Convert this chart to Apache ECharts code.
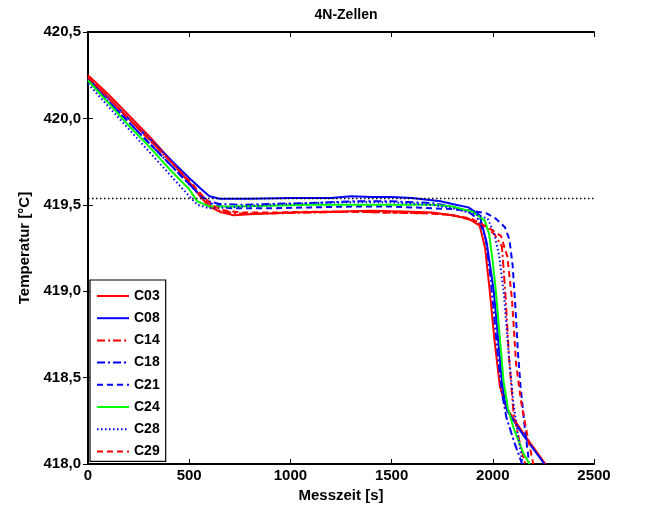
<!DOCTYPE html>
<html>
<head>
<meta charset="utf-8">
<script src="https://cdn.jsdelivr.net/npm/echarts@6/dist/echarts.min.js"></script>
<style>html,body{margin:0;padding:0;background:#fff;}#c{width:656px;height:508px;}</style>
</head>
<body>
<div id="c"></div>
<script>
const titleText = '4N-Zellen';
const xName = 'Messzeit [s]';
const yName = 'Temperatur [°C]';
const xTicks = [0, 500, 1000, 1500, 2000, 2500];
const yTicks = [418.0, 418.5, 419.0, 419.5, 420.0, 420.5];
const refLevel = 419.535;
const names = ['C03', 'C08', 'C14', 'C18', 'C21', 'C24', 'C28', 'C29'];

const c03_t = [0,100,200,300,400,500,560,600,650,720,800,1000,1200,1400,1600,1700,1800,1880,1935,1962,1985,2008,2035,2065,2155,2260];
const c03_T = [420.25,420.14,420.02,419.9,419.77,419.63,419.54,419.49,419.46,419.44,419.445,419.455,419.46,419.465,419.46,419.455,419.44,419.42,419.38,419.25,419.0,418.72,418.45,418.33,418.17,418.0];
const c08_t = [0,100,200,300,400,500,560,600,650,700,800,1000,1200,1300,1400,1500,1600,1742,1800,1880,1935,1970,2005,2025,2045,2060,2070,2155,2255];
const c08_T = [420.23,420.12,420.0,419.885,419.77,419.655,419.59,419.55,419.535,419.535,419.535,419.54,419.54,419.55,419.545,419.545,419.54,419.52,419.505,419.485,419.44,419.28,419.0,418.74,418.48,418.36,418.31,418.16,418.0];
const c14_t = [0,100,200,300,400,500,560,610,660,750,900,1100,1300,1500,1700,1800,1900,1965,2008,2045,2062,2080,2102,2130,2160];
const c14_T = [420.24,420.12,420.0,419.88,419.76,419.63,419.55,419.49,419.46,419.45,419.45,419.455,419.46,419.455,419.45,419.44,419.41,419.37,419.33,419.26,418.99,418.62,418.3,418.14,418.0];
const c18_t = [0,100,200,300,400,500,550,600,650,750,900,1100,1300,1500,1700,1800,1880,1935,1965,1987,2007,2027,2047,2067,2105,2145];
const c18_T = [420.22,420.1,419.98,419.86,419.74,419.62,419.56,419.52,419.505,419.5,419.505,419.51,419.52,419.52,419.51,419.49,419.46,419.41,419.3,419.1,418.85,418.6,418.4,418.27,418.13,418.0];
const c21_t = [0,100,200,300,400,500,550,600,700,900,1100,1300,1500,1700,1800,1900,1970,2015,2060,2082,2098,2112,2124,2137,2157,2180];
const c21_T = [420.22,420.1,419.98,419.86,419.74,419.62,419.56,419.51,419.48,419.48,419.485,419.49,419.49,419.48,419.475,419.465,419.45,419.42,419.37,419.3,419.15,418.9,418.65,418.45,418.22,418.0];
const c24_t = [0,100,200,300,400,500,540,600,700,900,1100,1300,1500,1700,1800,1900,1960,1982,2000,2015,2037,2053,2075,2105,2152,2182];
const c24_T = [420.22,420.09,419.96,419.84,419.71,419.59,419.52,419.49,419.49,419.495,419.5,419.5,419.5,419.5,419.49,419.46,419.41,419.33,419.17,419.0,418.7,418.48,418.32,418.2,418.06,418.0];
const c28_t = [0,100,200,300,400,500,540,600,700,900,1100,1300,1500,1700,1800,1900,1975,2008,2032,2056,2080,2100,2122,2148];
const c28_T = [420.2,420.07,419.94,419.81,419.68,419.55,419.5,419.48,419.485,419.5,419.51,419.515,419.515,419.5,419.48,419.45,419.42,419.33,419.2,418.97,418.62,418.37,418.18,418.0];
const c29_t = [0,100,200,300,400,500,560,610,660,750,900,1100,1300,1500,1700,1800,1894,1975,2040,2072,2095,2115,2140,2165,2200];
const c29_T = [420.24,420.12,420.0,419.88,419.76,419.64,419.56,419.5,419.47,419.455,419.455,419.46,419.46,419.455,419.45,419.44,419.42,419.37,419.32,419.2,418.95,418.58,418.36,418.2,418.0];

const seriesT = [c03_t, c08_t, c14_t, c18_t, c21_t, c24_t, c28_t, c29_t];
const seriesV = [c03_T, c08_T, c14_T, c18_T, c21_T, c24_T, c28_T, c29_T];
const colors = ['#ff0000', '#0000ff', '#ff0000', '#0000ff', '#0000ff', '#00ff00', '#0000ff', '#ff0000'];
const dashes = ['solid', 'solid', [8, 3, 2, 3], [8, 3, 2, 3], [6, 4], 'solid', [1.5, 2.5], [6, 4]];

const FONT = "'Liberation Sans', Arial, sans-serif";
const fmtY = v => v.toFixed(1).replace('.', ',');
const fmtX = v => String(v);

const series = names.map((n, i) => ({
  name: n,
  type: 'line',
  xAxisIndex: 0,
  yAxisIndex: 0,
  symbol: 'none',
  silent: true,
  animation: false,
  data: seriesT[i].map((t, k) => [t, seriesV[i][k]]),
  lineStyle: { color: colors[i], width: 2, type: dashes[i] },
  itemStyle: { color: colors[i] },
  markLine: i === 0 ? {
    silent: true, symbol: 'none', label: { show: false },
    lineStyle: { color: '#000', type: [1.5, 2.5], width: 1.3 },
    data: [{ yAxis: refLevel }]
  } : undefined
}));

const chart = echarts.init(document.getElementById('c'), null, { renderer: 'canvas' });
const axisCommon = {
  axisLine: { show: true, lineStyle: { color: '#000', width: 2 } },
  axisTick: { show: true, inside: true, length: 5, lineStyle: { color: '#000', width: 1 } },
  splitLine: { show: false }
};
chart.setOption({
  animation: false,
  backgroundColor: '#fff',
  title: { text: titleText, left: 341, top: 3, textAlign: 'center',
    textStyle: { fontFamily: FONT, fontSize: 14, fontWeight: 'bold', color: '#000' } },
  grid: { left: 88, right: 62, top: 32, bottom: 44, containLabel: false },
  legend: {
    data: names, orient: 'vertical', left: 90, top: 280,
    itemWidth: 32, itemHeight: 14, itemGap: 8.2, padding: [9, 6, 3, 6],
    borderColor: '#000', borderWidth: 1.2, backgroundColor: '#fff',
    itemStyle: { opacity: 0 },
    textStyle: { fontFamily: FONT, fontSize: 14, fontWeight: 'bold', color: '#000' },
    selectedMode: false
  },
  xAxis: [
    Object.assign({ type: 'value', min: xTicks[0], max: xTicks[xTicks.length - 1], interval: 500, position: 'bottom',
      name: xName, nameLocation: 'middle', nameGap: 22,
      nameTextStyle: { fontFamily: FONT, fontSize: 15, fontWeight: 'bold', color: '#000' },
      axisLabel: { fontFamily: FONT, fontSize: 15, fontWeight: 'bold', color: '#000', margin: 4, formatter: fmtX } }, axisCommon),
    Object.assign({ type: 'value', min: xTicks[0], max: xTicks[xTicks.length - 1], interval: 500, position: 'top',
      axisLabel: { show: false } }, axisCommon)
  ],
  yAxis: [
    Object.assign({ type: 'value', min: yTicks[0], max: yTicks[yTicks.length - 1], interval: 0.5, position: 'left',
      name: yName, nameLocation: 'middle', nameGap: 40,
      nameTextStyle: { fontFamily: FONT, fontSize: 15, fontWeight: 'bold', color: '#000' },
      axisLabel: { fontFamily: FONT, fontSize: 15, fontWeight: 'bold', color: '#000', margin: 7, formatter: fmtY } }, axisCommon),
    Object.assign({ type: 'value', min: yTicks[0], max: yTicks[yTicks.length - 1], interval: 0.5, position: 'right',
      axisLabel: { show: false } }, axisCommon)
  ],
  series: series
});
</script>
</body>
</html>
